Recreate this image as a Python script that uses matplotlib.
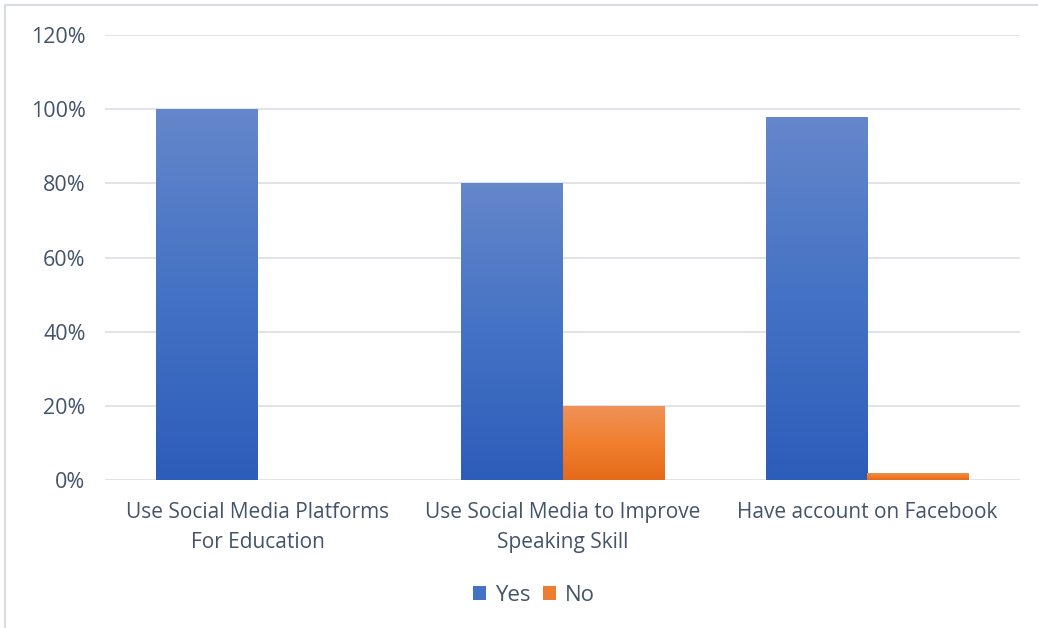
import numpy as np
import matplotlib
matplotlib.use("Agg")
import matplotlib.pyplot as plt
from matplotlib.colors import LinearSegmentedColormap
from matplotlib.patches import Rectangle

categories = ["Use Social Media Platforms\nFor Education",
              "Use Social Media to Improve\nSpeaking Skill",
              "Have account on Facebook"]
yes_vals = [100, 80, 98]
no_vals = [0, 20, 2]
yticks = [0, 20, 40, 60, 80, 100, 120]
ytick_labels = [f"{v}%" for v in yticks]

plt.rcParams['font.family'] = ['Open Sans', 'DejaVu Sans']
text_color = '#44546A'

fig = plt.figure(figsize=(10.38, 6.28), dpi=100)
fig.patch.set_facecolor('white')
# outer frame
fig.add_artist(Rectangle((5/1038, -0.1), 1.2, (628-5)/628 + 0.1, transform=fig.transFigure,
                         fill=False, edgecolor='#d9dde3', linewidth=1.5))

ax = fig.add_axes([105/1038, 148/628, 915/1038, 445/628])
x = np.arange(len(categories))
w = 1/3
b1 = ax.bar(x - w/2, yes_vals, w, color='#4472C4', label='Yes', zorder=3)
b2 = ax.bar(x + w/2, no_vals, w, color='#ED7D31', label='No', zorder=3)

blue = LinearSegmentedColormap.from_list('b', ['#2C5DBA', '#4472C4', '#6587CB'])
orange = LinearSegmentedColormap.from_list('o', ['#E56A1A', '#F07F2E', '#F0925A'])
grad = np.linspace(0, 1, 256).reshape(-1, 1)
for bars, cmap in ((b1, blue), (b2, orange)):
    for p in bars:
        h = p.get_height()
        if h <= 0:
            continue
        x0 = p.get_x()
        x1 = x0 + p.get_width()
        im = ax.imshow(grad, extent=[x0, x1, 0, h], origin='lower', aspect='auto',
                       cmap=cmap, zorder=4)
        im.set_clip_path(p)

ax.set_xlim(-0.5, 2.5)
ax.set_ylim(0, 120)
ax.set_yticks(yticks)
ax.set_yticklabels(ytick_labels)
ax.set_xticks(x)
ax.set_xticklabels(categories, linespacing=1.55)
ax.grid(axis='y', color='#dde1e6', linewidth=1.3, zorder=0)
ax.set_axisbelow(True)
for s in ax.spines.values():
    s.set_visible(False)
ax.tick_params(axis='y', length=0, labelsize=15.5, labelcolor=text_color, pad=14)
ax.tick_params(axis='x', length=0, labelsize=15, labelcolor=text_color, pad=16)

leg = ax.legend(loc='upper center', bbox_to_anchor=(0.469, -0.19), ncol=2, frameon=False,
                fontsize=16, handlelength=0.6, handleheight=0.6, columnspacing=0.55,
                handletextpad=0.4, labelcolor=text_color)
fig.savefig('out.png', dpi=100, facecolor='white')
